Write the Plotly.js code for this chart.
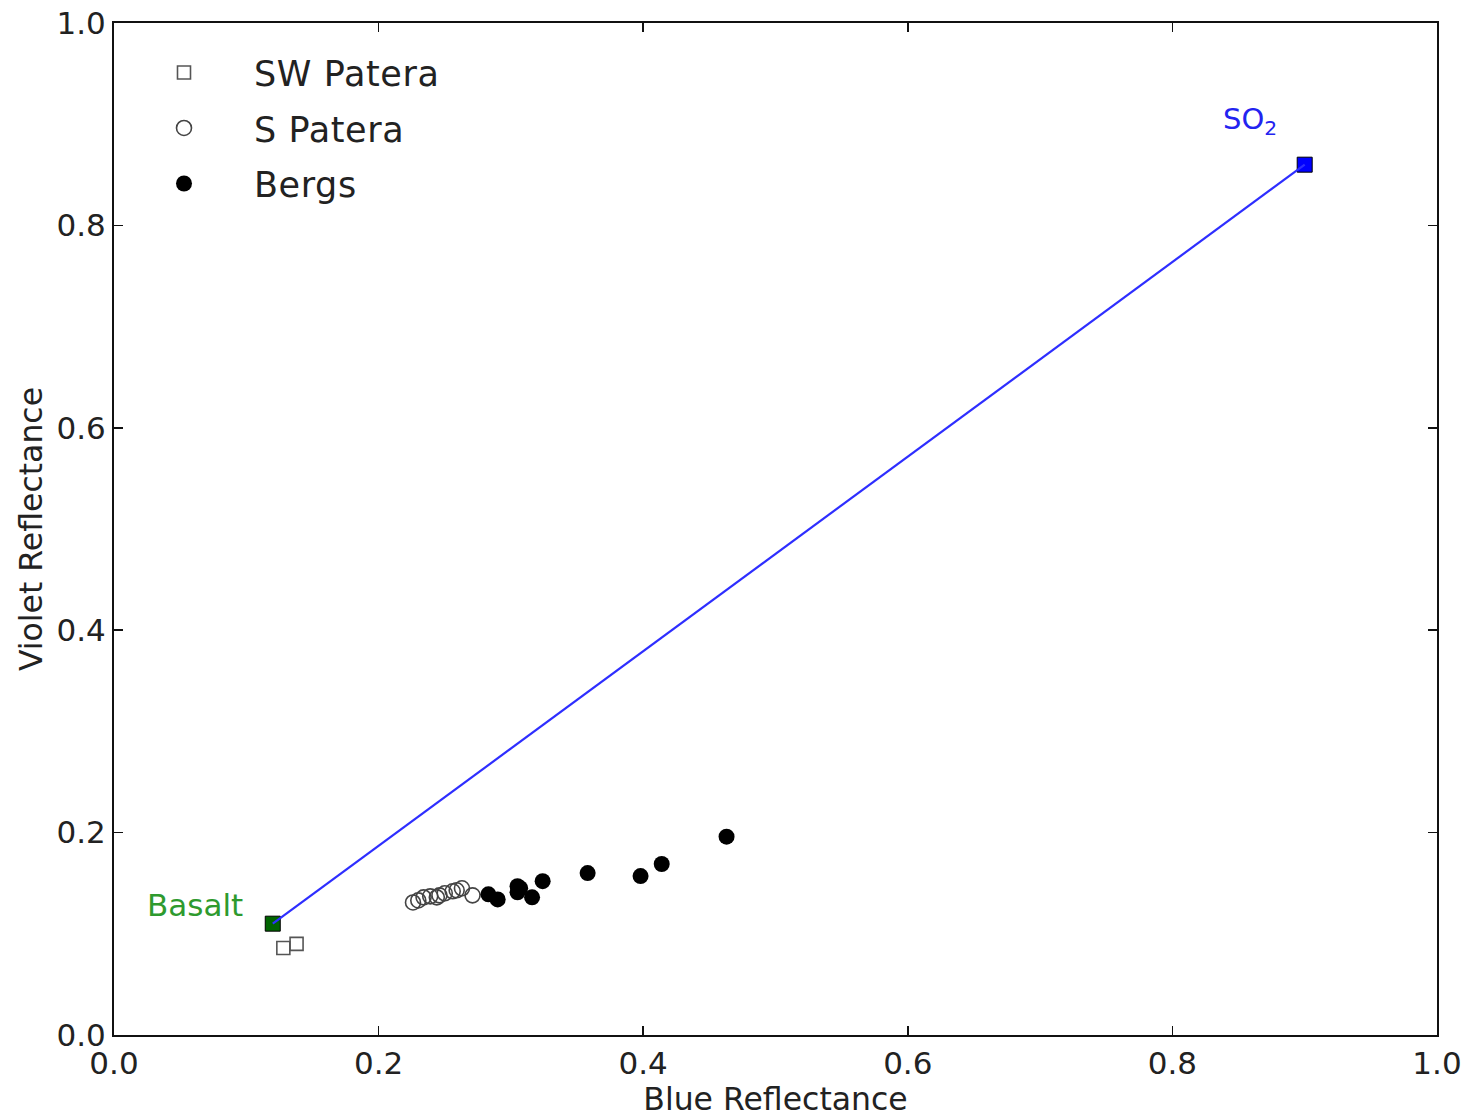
<!DOCTYPE html>
<html>
<head>
<meta charset="utf-8">
<script src="https://cdn.plot.ly/plotly-3.0.1.min.js"></script>
<style>
  html, body { margin: 0; padding: 0; background: #fff; }
  #chart { width: 1479px; height: 1117px; }
  .legendtext { letter-spacing: 0.6px; }
</style>
</head>
<body>
<div id="chart"></div>
<script>
// SW Patera samples
const swBlue = [0.128, 0.138];
const swViolet = [0.086, 0.090];

// S Patera samples
const sBlue = [0.226, 0.230, 0.234, 0.239, 0.244, 0.246, 0.250, 0.256, 0.259, 0.263, 0.271];
const sViolet = [0.131, 0.133, 0.136, 0.137, 0.136, 0.138, 0.140, 0.142, 0.143, 0.145, 0.138];

// Bergs samples
const bergsBlue = [0.283, 0.290, 0.305, 0.307, 0.305, 0.316, 0.324, 0.358, 0.398, 0.414, 0.463];
const bergsViolet = [0.139, 0.134, 0.147, 0.145, 0.141, 0.136, 0.152, 0.160, 0.157, 0.169, 0.196];

// End members of the mixing line
const endNames = ['Basalt', 'SO<sub>2</sub>'];
const endBlue = [0.12, 0.90];
const endViolet = [0.11, 0.86];
const endColors = ['#006400', '#0000ff'];
const labelColors = ['#2e9a2e', '#2323f0'];

const tickVals = [0.0, 0.2, 0.4, 0.6, 0.8, 1.0];
const tickText = ['0.0', '0.2', '0.4', '0.6', '0.8', '1.0'];

const FONT = 'DejaVu Sans, Verdana, sans-serif';

const traces = [
  {
    x: swBlue, y: swViolet, type: 'scatter', mode: 'markers', name: 'SW Patera',
    legendgroup: 'a',
    marker: { symbol: 'square-open', size: 13, color: '#555555', line: { width: 1.6, color: '#555555' } }
  },
  {
    x: sBlue, y: sViolet, type: 'scatter', mode: 'markers', name: 'S Patera',
    legendgroup: 'b',
    marker: { symbol: 'circle-open', size: 15, color: '#444444', line: { width: 1.6, color: '#444444' } }
  },
  {
    x: bergsBlue, y: bergsViolet, type: 'scatter', mode: 'markers', name: 'Bergs',
    legendgroup: 'c',
    marker: { symbol: 'circle', size: 16, color: '#000000', line: { width: 0 } }
  },
  {
    x: endBlue, y: endViolet, type: 'scatter', mode: 'markers', showlegend: false,
    marker: { symbol: 'square', size: 15, color: endColors, line: { width: 1, color: '#000000' } }
  },
  {
    x: endBlue, y: endViolet, type: 'scatter', mode: 'lines', showlegend: false,
    line: { color: '#2e2eff', width: 2.2 }
  }
];

const axisCommon = {
  range: [0, 1],
  tickvals: tickVals,
  ticktext: tickText,
  ticks: 'inside',
  ticklen: 9,
  tickwidth: 1.5,
  tickcolor: '#111',
  showline: true,
  linecolor: '#111',
  linewidth: 2,
  mirror: 'ticks',
  showgrid: false,
  zeroline: false,
  tickfont: { family: FONT, size: 31, color: '#222' }
};

const layout = {
  width: 1479,
  height: 1117,
  margin: { l: 114, r: 42, t: 23, b: 82 },
  paper_bgcolor: '#ffffff',
  plot_bgcolor: '#ffffff',
  font: { family: FONT },
  xaxis: Object.assign({}, axisCommon, {
    title: { text: 'Blue Reflectance', font: { family: FONT, size: 31.5, color: '#222' }, standoff: 6 }
  }),
  yaxis: Object.assign({}, axisCommon, {
    title: { text: 'Violet Reflectance', font: { family: FONT, size: 31.5, color: '#222' }, standoff: 4 }
  }),
  showlegend: true,
  legend: {
    x: 0.0, y: 0.98, xanchor: 'left', yanchor: 'top',
    bgcolor: 'rgba(0,0,0,0)',
    borderwidth: 0,
    itemwidth: 130,
    traceorder: 'grouped',
    tracegroupgap: 7,
    font: { family: FONT, size: 35, color: '#222' }
  },
  annotations: [
    {
      x: 0.099, y: 0.1285, xref: 'x', yref: 'y', text: endNames[0],
      showarrow: false, xanchor: 'right', yanchor: 'middle',
      font: { family: FONT, size: 31, color: labelColors[0] }
    },
    {
      x: 0.859, y: 0.903, xref: 'x', yref: 'y', text: endNames[1],
      showarrow: false, xanchor: 'center', yanchor: 'middle',
      font: { family: FONT, size: 29, color: labelColors[1] }
    }
  ]
};

Plotly.newPlot('chart', traces, layout, { displayModeBar: false, staticPlot: true });
</script>
</body>
</html>
